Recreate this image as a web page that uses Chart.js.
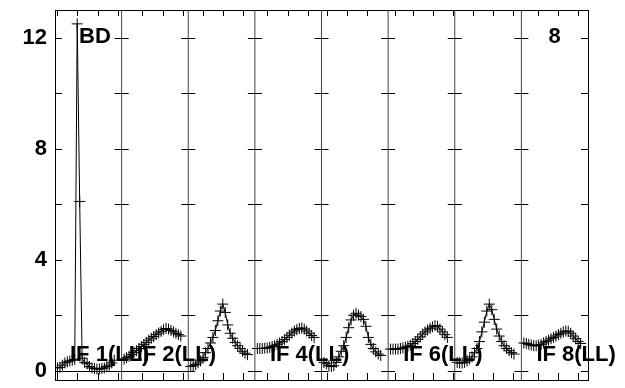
<!DOCTYPE html>
<html>
<head>
  <meta charset="UTF-8" />
  <title>IF spectra</title>
  <script src="https://cdn.jsdelivr.net/npm/chart.js"></script>
  <style>
    body { margin: 0; background: #fff; }
    #wrap { width: 625px; height: 388px; position: relative; }
  </style>
</head>
<body>
  <div id="wrap"><canvas id="grafica"></canvas></div>
<script>
  // canales por panel (posicion dentro del panel) y ancho del panel
  const PANEL = 27;
  const channels = [1,2,3,4,5,6,7,8,9,10,11,12,13,14,15,16,17,18,19,20,21,22,23,24];

  const if1 = [0.10,0.12,0.20,0.28,0.32,0.35,0.38,0.40,12.5,6.1,0.45,0.30,0.25,0.15,0.10,0.08,0.06,0.06,0.08,0.10,0.15,0.20,0.28,0.38];
  const if2 = [0.42,0.47,0.52,0.58,0.65,0.72,0.80,0.87,0.95,1.02,1.10,1.17,1.23,1.30,1.36,1.42,1.48,1.52,1.50,1.45,1.40,1.35,1.30,1.25];
  const if3 = [0.15,0.18,0.22,0.28,0.35,0.48,0.65,0.80,1.00,1.20,1.45,1.80,2.15,2.40,2.10,1.65,1.35,1.17,1.02,0.90,0.80,0.70,0.63,0.58];
  const if4 = [0.80,0.80,0.80,0.81,0.82,0.84,0.87,0.90,0.95,1.00,1.05,1.12,1.20,1.28,1.36,1.43,1.48,1.52,1.54,1.50,1.43,1.35,1.27,1.20];
  const if5 = [0.30,0.25,0.18,0.15,0.18,0.30,0.50,0.70,0.90,1.20,1.55,1.83,2.00,2.07,2.00,1.95,1.85,1.60,1.20,0.95,0.80,0.68,0.60,0.55];
  const if6 = [0.78,0.78,0.78,0.78,0.80,0.82,0.85,0.88,0.92,0.98,1.05,1.13,1.22,1.32,1.40,1.47,1.53,1.58,1.63,1.60,1.50,1.40,1.30,1.20];
  const if7 = [0.30,0.28,0.28,0.30,0.35,0.42,0.50,0.65,0.80,1.05,1.40,1.75,2.15,2.40,2.20,1.85,1.50,1.25,1.05,0.90,0.80,0.72,0.65,0.60];
  const if8 = [1.00,0.98,0.95,0.92,0.90,0.90,0.92,0.95,1.00,1.05,1.10,1.15,1.20,1.25,1.30,1.35,1.40,1.43,1.42,1.35,1.25,1.15,1.05,0.98];
  const series = [if1, if2, if3, if4, if5, if6, if7, if8];

  // etiquetas (las de IF 3, 5 y 7 no se ven en el original)
  const ifLabels = ['IF 1(LL)', 'IF 2(LL)', '', 'IF 4(LL)', '', 'IF 6(LL)', '', 'IF 8(LL)'];

  // marcas del eje x por panel (en unidades de canal)
  const xTicks = [
    [0.7, 9.0, 17.3, 25.7],
    [8.4, 16.6, 25.0],
    [5.8, 13.9, 22.3],
    [5.1, 13.3, 21.6],
    [2.3, 10.5, 18.6],
    [2.7, 9.9, 18.0, 26.4],
    [7.5, 15.6, 23.7],
    [6.8, 14.9, 23.0]
  ];
  const yTicks = [0, 2, 4, 6, 8, 10, 12];
  const yLabelTicks = [0, 4, 8, 12];

  const FONT = 'bold 22px "Liberation Sans", Arial, sans-serif';

  const datasets = series.map((vals, p) => ({
    data: vals.map((v, i) => ({ x: p * PANEL + channels[i], y: v })),
    borderColor: '#000',
    borderWidth: 1,
    pointStyle: 'cross',
    pointRadius: 5.5,
    pointBorderWidth: 1,
    pointBorderColor: '#000',
    tension: 0,
    fill: false
  }));

  const marco = {
    id: 'marco',
    afterDraw(chart) {
      const ctx = chart.ctx;
      const a = chart.chartArea;
      const xs = chart.scales.x, ys = chart.scales.y;
      ctx.save();
      ctx.strokeStyle = '#000';
      ctx.lineWidth = 1;

      // marco
      ctx.strokeRect(Math.round(a.left) + 0.5, Math.round(a.top) + 0.5, Math.round(a.right - a.left), Math.round(a.bottom - a.top));

      // divisiones de paneles
      ctx.strokeStyle = '#444';
      for (let p = 1; p < series.length; p++) {
        const px = xs.getPixelForValue(p * PANEL);
        ctx.beginPath(); ctx.moveTo(px, a.top); ctx.lineTo(px, a.bottom); ctx.stroke();
      }

      // marcas y
      ctx.strokeStyle = '#000';
      yTicks.forEach(v => {
        const py = Math.round(ys.getPixelForValue(v)) + 0.5;
        ctx.beginPath(); ctx.moveTo(a.left, py); ctx.lineTo(a.left + 7, py); ctx.stroke();
        ctx.beginPath(); ctx.moveTo(a.right, py); ctx.lineTo(a.right - 7, py); ctx.stroke();
        for (let p = 1; p < series.length; p++) {
          const px = xs.getPixelForValue(p * PANEL);
          ctx.beginPath(); ctx.moveTo(px - 7, py); ctx.lineTo(px + 7, py); ctx.stroke();
        }
      });

      // marcas x arriba y abajo
      xTicks.forEach((list, p) => {
        list.forEach(t => {
          const px = Math.round(xs.getPixelForValue(p * PANEL + t)) + 0.5;
          ctx.beginPath(); ctx.moveTo(px, a.top); ctx.lineTo(px, a.top + 6); ctx.stroke();
          ctx.beginPath(); ctx.moveTo(px, a.bottom); ctx.lineTo(px, a.bottom - 7); ctx.stroke();
        });
      });

      // linea de cero en los dos primeros paneles
      const y0 = Math.round(ys.getPixelForValue(0)) + 0.5;
      ctx.beginPath(); ctx.moveTo(a.left, y0); ctx.lineTo(xs.getPixelForValue(2 * PANEL), y0); ctx.stroke();

      // textos
      ctx.fillStyle = '#000';
      ctx.font = FONT;
      ctx.textBaseline = 'alphabetic';
      ctx.textAlign = 'left';
      ifLabels.forEach((txt, p) => {
        if (!txt) return;
        ctx.fillText(txt, xs.getPixelForValue(p * PANEL) + 15, ys.getPixelForValue(0) - 10);
      });
      ctx.fillText('BD', xs.getPixelForValue(0) + 24, a.top + 33);
      ctx.fillText('8', xs.getPixelForValue(7 * PANEL) + 27, a.top + 33);
      ctx.restore();
    }
  };

  new Chart(document.getElementById('grafica').getContext('2d'), {
    type: 'line',
    data: { datasets: datasets },
    options: {
      responsive: true,
      maintainAspectRatio: false,
      animation: false,
      layout: { padding: { top: 10, right: 37, bottom: 8, left: 0 } },
      plugins: { legend: { display: false }, tooltip: { enabled: false } },
      scales: {
        x: {
          type: 'linear',
          min: 0,
          max: PANEL * series.length,
          display: false
        },
        y: {
          min: -0.335,
          max: 13.0,
          afterFit(scale) {
            scale.width = 55;
            scale.paddingTop = 0;
            scale.paddingBottom = 0;
          },
          afterBuildTicks(scale) { scale.ticks = yTicks.map(v => ({ value: v })); },
          grid: { display: false, drawTicks: false },
          border: { display: false },
          ticks: {
            color: '#000',
            padding: 8,
            font: { family: '"Liberation Sans", Arial, sans-serif', size: 22, weight: 'bold' },
            callback: v => yLabelTicks.includes(v) ? String(v) : ''
          }
        }
      }
    },
    plugins: [marco]
  });
</script>
</body>
</html>
